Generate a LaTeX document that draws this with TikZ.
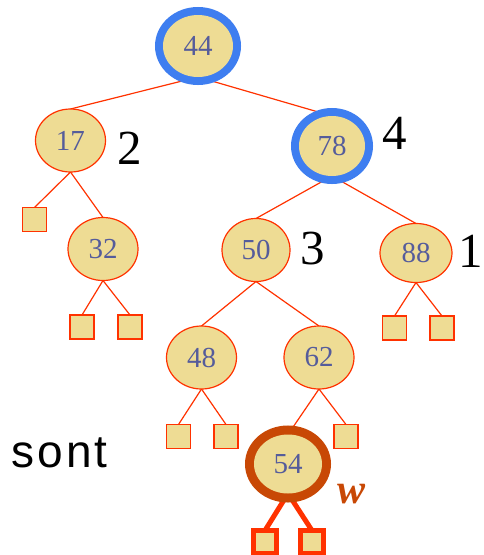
\documentclass[tikz,border=0pt]{standalone}
\usepackage{fontspec}
\setmainfont{Liberation Serif}
\newfontfamily\sontfont[LetterSpace=7]{Liberation Sans}
\usetikzlibrary{shapes.geometric,backgrounds}
\definecolor{nfill}{RGB}{238,220,148}
\definecolor{ered}{RGB}{255,50,0}
\definecolor{ntext}{RGB}{85,92,155}
\definecolor{ringblue}{RGB}{62,126,240}
\definecolor{ringbrown}{RGB}{200,72,5}
\begin{document}
\begin{tikzpicture}[x=1pt,y=-1pt,
  numfont/.style={font=\fontsize{29}{29}\selectfont, text=ntext},
  tn/.style={ellipse, draw=ered, line width=1.2pt, fill=nfill, minimum width=70pt, minimum height=63pt, inner sep=0pt, outer sep=0pt, numfont},
  ringb/.style={ellipse, fill=nfill, minimum width=68pt, minimum height=61pt, inner sep=0pt, outer sep=0pt, preaction={draw=ringblue, line width=16pt}, numfont},
  ringw/.style={ellipse, fill=nfill, minimum width=68pt, minimum height=59pt, inner sep=0pt, outer sep=0pt, preaction={draw=ringbrown, line width=18pt}, numfont},
  sq/.style={rectangle, draw=ered, line width=1.2pt, fill=nfill, minimum size=24pt, inner sep=0pt, outer sep=0pt},
  sqb/.style={rectangle, draw=ered, line width=5pt, fill=nfill, minimum size=23pt, inner sep=0pt, outer sep=0pt},
  ed/.style={draw=ered, line width=1.2pt},
  edb/.style={draw=ered, line width=5pt},
  lbl/.style={font=\fontsize{49}{49}\selectfont, text=black}]
\useasboundingbox (0,0) rectangle (483,555);
% nodes
\node[ringb, minimum width=70pt, minimum height=62pt] (n44) at (198,46) {44};
\node[tn] (n17) at (70.5,140.5) {17};
\node[ringb, minimum width=66pt, minimum height=60pt] (n78) at (332,146) {78};
\node[tn] (n32) at (103,249) {32};
\node[tn, minimum width=68pt] (n50) at (256,250) {50};
\node[tn, minimum width=72pt, minimum height=59pt] (n88) at (416,253) {88};
\node[tn] (n48) at (201.5,357.5) {48};
\node[tn] (n62) at (319,357.5) {62};
\node[ringw] (n54) at (288,464) {54};
\node[sq] (s17) at (34.5,219.5) {};
\node[sq] (s32a) at (82,327) {};
\node[sq] (s32b) at (130,327) {};
\node[sq] (s88a) at (394.5,328) {};
\node[sq] (s88b) at (442,328) {};
\node[sq] (s48a) at (178.5,436.5) {};
\node[sq] (s48b) at (226,436.5) {};
\node[sq] (s62b) at (346,436.5) {};
\node[sqb] (s54a) at (265,542) {};
\node[sqb] (s54b) at (312,542) {};
% labels
\node[lbl] (l2) at (130,148) {2};
\node[lbl] (l4) at (395,133) {4};
\node[lbl] (l3) at (313,249) {3};
\node[lbl, inner sep=0pt] (l1) at (471,251) {1};
\node[anchor=base west, inner sep=0pt, font=\sontfont\fontsize{46}{46}\selectfont] (sont) at (11,467) {sont};
\node[anchor=base, inner sep=0pt, text=ringbrown, font=\fontsize{42}{42}\selectfont\bfseries\itshape] (w) at (352,503) {w};
% edges
\begin{pgfonlayer}{background}
\draw[ed] (n44.south) -- (n17.north);
\draw[ed] (n44.south) -- (n78.north);
\draw[ed] (n17.south) -- (s17.north);
\draw[ed] (n17.south) -- (n32.north);
\draw[ed] (n32.south) -- (s32a.north);
\draw[ed] (n32.south) -- (s32b.north);
\draw[ed] (n78.south) -- (n50.north);
\draw[ed] (n78.south) -- (n88.north);
\draw[ed] (n88.south) -- (s88a.north);
\draw[ed] (n88.south) -- (s88b.north);
\draw[ed] (n50.south) -- (n48.north);
\draw[ed] (n50.south) -- (n62.north);
\draw[ed] (n48.south) -- (s48a.north);
\draw[ed] (n48.south) -- (s48b.north);
\draw[ed] (n62.south) -- (n54.north);
\draw[ed] (n62.south) -- (s62b.north);
\draw[edb] (n54.south) -- (s54a.north);
\draw[edb] (n54.south) -- (s54b.north);
\end{pgfonlayer}
\end{tikzpicture}
\end{document}
